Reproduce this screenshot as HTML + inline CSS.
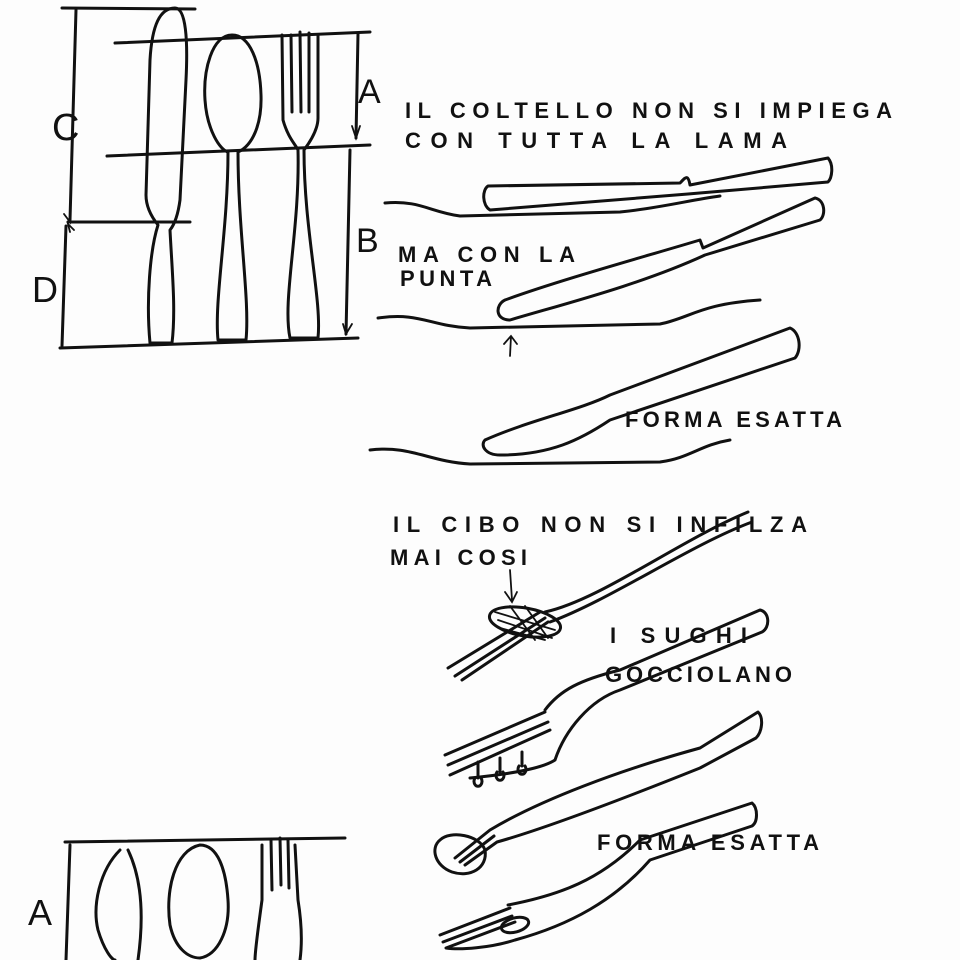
<!DOCTYPE html>
<html><head><meta charset="utf-8"><style>
html,body{margin:0;padding:0;background:#fdfdfd}
svg{display:block}
text{font-family:"Liberation Sans",sans-serif;font-size:22px;fill:#111;letter-spacing:3px;font-weight:bold}
.s{fill:none;stroke:#111;stroke-width:3;stroke-linecap:round;stroke-linejoin:round}
.t{fill:none;stroke:#111;stroke-width:1.8;stroke-linecap:round}
</style></head><body>
<svg width="960" height="960" viewBox="0 0 960 960">
<path class="s" d="M62 8 L195 9 M115 43 L370 32 M107 156 L370 145 M68 222 L190 222 M60 348 L358 338"/>
<path class="s" d="M76 10 L70 220 M66 226 L62 346 M358 34 L356 138 M350 150 L346 334"/>
<path class="t" d="M70 212 L70 222 L64 214 M70 232 L68 224 L74 230 M352 126 L356 138 L360 126 M343 324 L346 334 L352 324"/>
<text x="52" y="140" style="font-size:38px;font-weight:normal">C</text>
<text x="32" y="302" style="font-size:36px;font-weight:normal">D</text>
<text x="358" y="103" style="font-size:34px;font-weight:normal">A</text>
<text x="356" y="252" style="font-size:34px;font-weight:normal">B</text>
<path class="s" d="M150 343 C146 300 150 250 158 225 C150 215 146 205 146 195 L150 60 C152 25 160 8 175 8 C186 8 188 40 186 80 L180 200 C178 215 174 225 170 230 C172 270 176 310 172 343 Z"/>
<path class="s" d="M232 35 C212 35 203 70 205 100 C207 130 220 150 228 152 C228 230 214 300 218 340 L246 340 C250 300 238 230 238 152 C252 146 262 125 261 95 C260 62 250 35 232 35 Z"/>
<path class="s" d="M282 35 L283 120 C288 138 296 145 298 150 C300 230 282 300 290 338 L318 338 C322 300 304 230 304 150 C310 142 318 130 318 118 L318 35 M291 35 L292 112 M300 32 L301 112 M309 33 L309 112"/>
<text x="405" y="118" textLength="490">IL COLTELLO NON SI IMPIEGA</text>
<text x="405" y="148" textLength="385">CON TUTTA LA LAMA</text>
<path class="s" d="M385 203 C420 200 430 212 460 216 L620 212 C660 208 690 200 720 196"/>
<path class="s" d="M488 186 L680 183 C685 178 688 173 690 185 L828 158 C834 165 832 178 828 182 L688 194 L490 210 C482 205 482 190 488 186 Z"/>
<text x="398" y="262" textLength="180">MA CON LA</text>
<text x="400" y="286" textLength="95">PUNTA</text>
<path class="s" d="M378 318 C420 312 430 326 470 328 L660 324 C690 318 700 304 760 300"/>
<path class="s" d="M505 300 C560 280 640 258 700 240 L703 248 L815 198 C825 200 826 215 820 220 L705 255 C640 285 560 305 510 320 C495 320 495 305 505 300 Z"/>
<path class="t" d="M510 356 L511 336 M504 344 L511 336 L517 344"/>
<path class="s" d="M370 450 C410 445 430 462 470 464 L660 462 C690 458 700 445 730 440"/>
<path class="s" d="M485 440 C530 420 580 410 610 395 L790 328 C800 332 802 350 795 358 L610 420 C580 440 550 455 500 455 C485 455 480 445 485 440 Z"/>
<text x="625" y="427" textLength="220">FORMA ESATTA</text>
<text x="393" y="532" textLength="417">IL CIBO NON SI INFILZA</text>
<text x="390" y="565" textLength="140">MAI COSI</text>
<path class="t" d="M510 570 L512 600 M505 592 L512 602 L517 592"/>
<path class="s" d="M448 668 L540 612 M455 676 L545 618 M462 680 L548 622 M545 612 C600 600 680 540 748 512 M550 622 C610 600 690 545 752 522"/>
<ellipse class="s" cx="525" cy="622" rx="36" ry="14" transform="rotate(10 525 622)"/>
<path class="t" d="M495 612 L555 630 M498 620 L552 638 M500 628 L545 640 M510 606 L535 640 M525 606 L548 638"/>
<text x="610" y="643" textLength="140">I SUGHI</text>
<text x="605" y="682" textLength="190">GOCCIOLANO</text>
<path class="s" d="M445 755 L545 712 M448 765 L548 722 M450 775 L550 730 M545 710 C560 690 580 680 620 670 L760 610 C770 612 770 628 762 632 L620 690 C590 700 565 730 555 760 C540 770 500 775 470 778"/>
<path class="s" d="M478 762 L478 778 M475 778 a4 5 0 1 0 6 0 M500 758 L500 772 M497 772 a4 5 0 1 0 6 0 M522 752 L522 766 M519 766 a4 5 0 1 0 6 0"/>
<path class="s" d="M440 840 C450 830 480 835 485 850 C488 868 470 878 452 872 C435 866 430 848 440 840 Z"/>
<path class="s" d="M455 858 L490 830 M460 862 L494 836 M465 865 L497 842 M490 830 C540 800 620 770 700 748 L758 712 C764 718 762 732 756 738 L700 768 C620 800 540 830 497 842"/>
<text x="597" y="850" textLength="225">FORMA ESATTA</text>
<path class="s" d="M440 935 L510 908 M443 942 L512 916 M446 948 L515 922 M508 905 C560 895 600 880 640 840 L752 803 C758 808 758 822 752 826 L650 860 C615 900 570 925 515 940 C490 948 460 950 446 948"/>
<ellipse class="s" cx="515" cy="925" rx="14" ry="7" transform="rotate(-15 515 925)"/>
<path class="s" d="M65 842 L345 838 M70 845 L66 960"/>
<text x="28" y="925" style="font-size:36px;font-weight:normal">A</text>
<path class="s" d="M120 850 C100 870 92 905 98 930 C104 950 112 960 115 960 M128 850 C140 875 145 910 138 960"/>
<path class="s" d="M200 845 C175 850 165 890 170 925 C175 948 188 958 200 958 C218 955 230 930 228 900 C226 870 218 845 200 845 Z"/>
<path class="s" d="M262 845 L262 900 C258 930 255 950 255 960 M295 845 L298 900 C302 925 302 945 300 960 M271 840 L272 890 M280 838 L281 885 M288 840 L289 888"/>
</svg>
</body></html>
